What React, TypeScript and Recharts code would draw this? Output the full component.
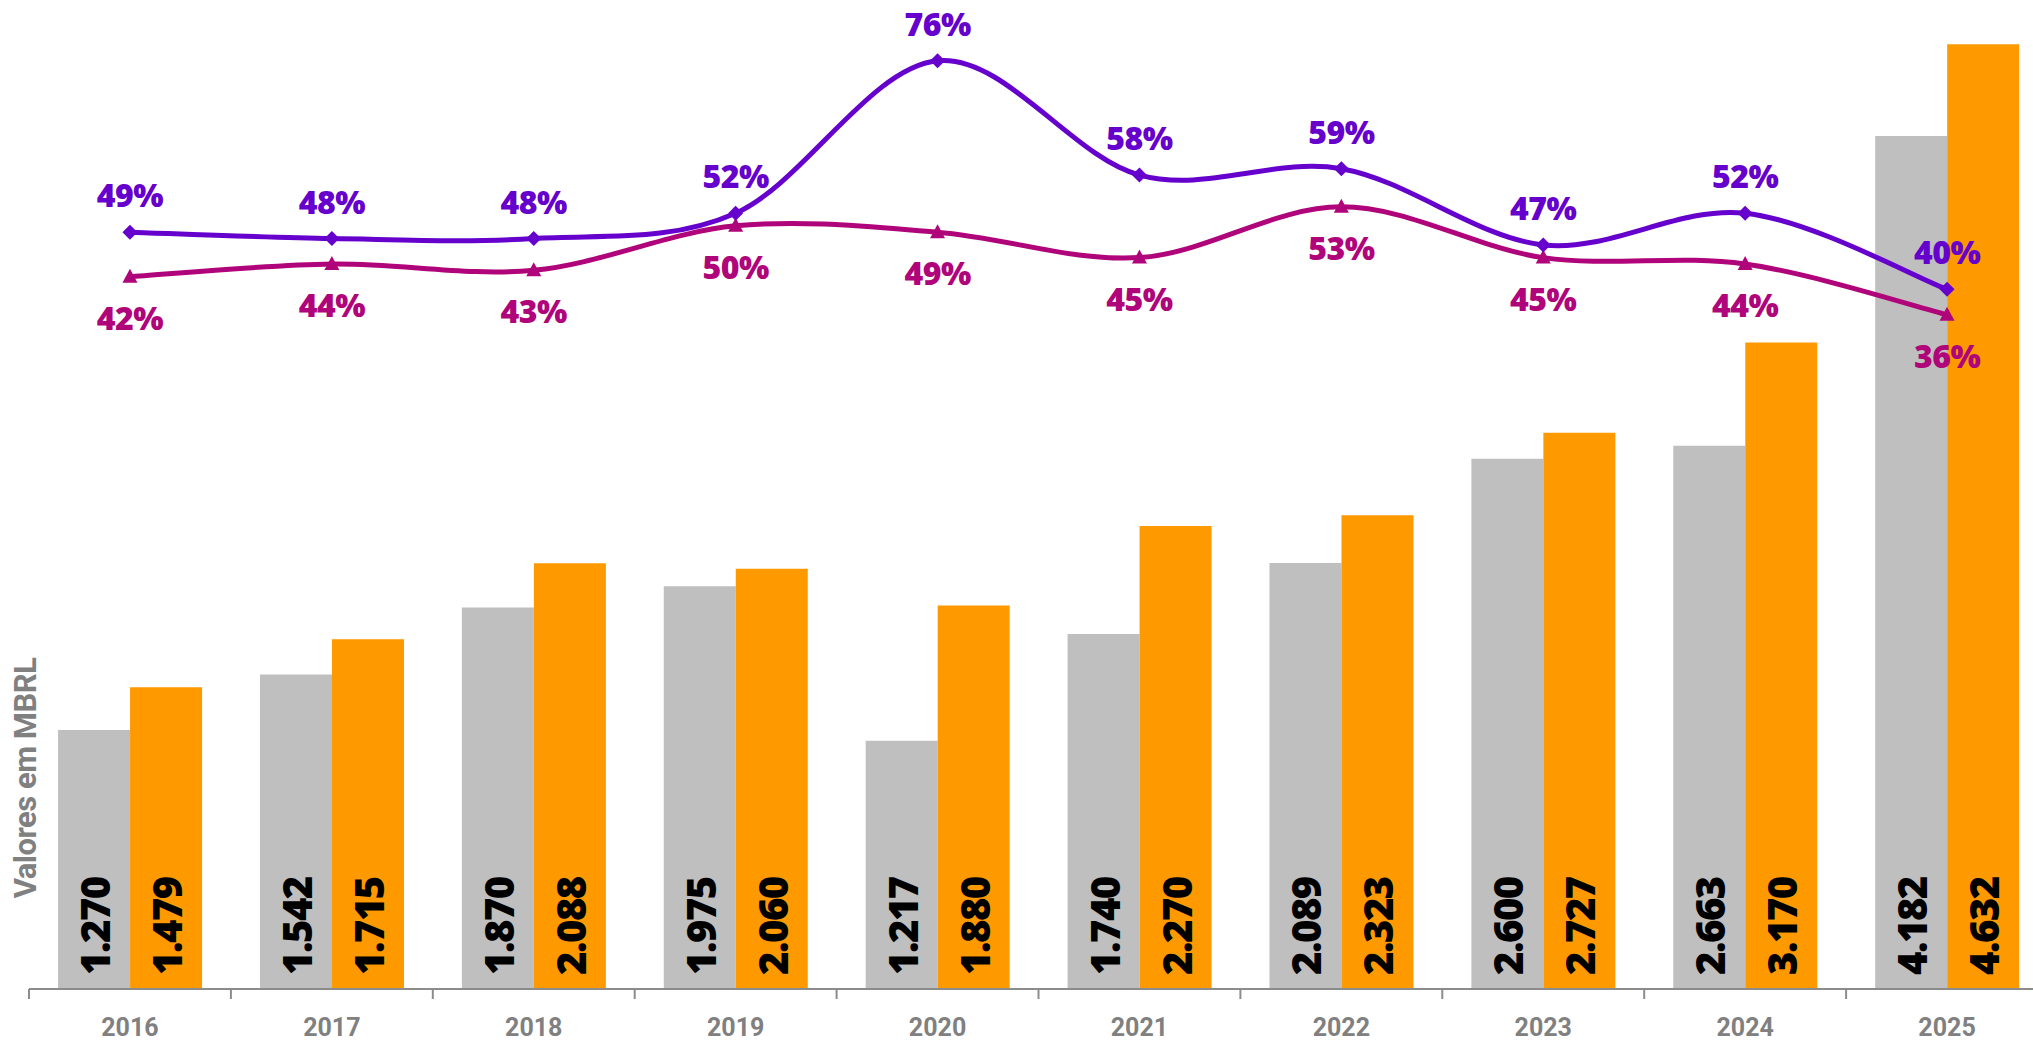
import { ComposedChart, Bar, Line, XAxis, YAxis, LabelList } from 'recharts';

const years = ['2016', '2017', '2018', '2019', '2020', '2021', '2022', '2023', '2024', '2025'];
const grayValues = [1270, 1542, 1870, 1975, 1217, 1740, 2089, 2600, 2663, 4182];
const orangeValues = [1479, 1715, 2088, 2060, 1880, 2270, 2323, 2727, 3170, 4632];
const purplePct = [49, 48, 48, 52, 76, 58, 59, 47, 52, 40];
const pinkPct = [42, 44, 43, 50, 49, 45, 53, 45, 44, 36];

const data = years.map((year, i) => ({
  year,
  gray: grayValues[i],
  orange: orangeValues[i],
  purple: purplePct[i],
  pink: pinkPct[i],
}));

const PURPLE = '#6600CC';
const PINK = '#B0047A';
const GRAY_BAR = '#BFBFBF';
const ORANGE = '#FF9900';
const AXIS_GRAY = '#8C8C8C';
const TEXT_GRAY = '#808080';
const FONT = 'Roboto, "Liberation Sans", sans-serif';
const HEAVY_FONT = '"Open Sans", Roboto, sans-serif';

// Excel-style smoothed line (catmull-rom like, 1/6 control points)
const excelSmooth = (context: any) => {
  let pts: number[][] = [];
  return {
    areaStart() {},
    areaEnd() {},
    lineStart() {
      pts = [];
    },
    point(x: number, y: number) {
      pts.push([+x, +y]);
    },
    lineEnd() {
      if (!pts.length) return;
      context.moveTo(pts[0][0], pts[0][1]);
      for (let i = 0; i < pts.length - 1; i++) {
        const p0 = pts[Math.max(i - 1, 0)];
        const p1 = pts[i];
        const p2 = pts[i + 1];
        const p3 = pts[Math.min(i + 2, pts.length - 1)];
        context.bezierCurveTo(
          p1[0] + (p2[0] - p0[0]) / 6,
          p1[1] + (p2[1] - p0[1]) / 6,
          p2[0] - (p3[0] - p1[0]) / 6,
          p2[1] - (p3[1] - p1[1]) / 6,
          p2[0],
          p2[1]
        );
      }
    },
  };
};

const formatThousands = (v: number) => String(v).replace(/\B(?=(\d{3})+(?!\d))/g, '.');

const DiamondDot = (props: any) => {
  const { cx, cy } = props;
  if (cx == null || cy == null) return null;
  const r = 7.5;
  return (
    <path
      key={`d-${cx}`}
      d={`M${cx},${cy - r}L${cx + r},${cy}L${cx},${cy + r}L${cx - r},${cy}Z`}
      fill={PURPLE}
    />
  );
};

const TriangleDot = (props: any) => {
  const { cx, cy } = props;
  if (cx == null || cy == null) return null;
  return (
    <path
      key={`t-${cx}`}
      d={`M${cx},${cy - 8}L${cx + 7.5},${cy + 6}L${cx - 7.5},${cy + 6}Z`}
      fill={PINK}
    />
  );
};

const BarValueLabel = (props: any) => {
  const { x, y, width, height, value } = props;
  const cx = x + width / 2 + 16;
  const by = y + height - 14;
  return (
    <text
      transform={`translate(${cx},${by}) rotate(-90)`}
      textAnchor="start"
      fill="#000"
      fontFamily={HEAVY_FONT}
      fontWeight={800}
      fontSize={40}
      letterSpacing={-1.5}
    >
      {formatThousands(value)}
    </text>
  );
};

const pctLabel = (color: string, dy: number) => (props: any) => {
  const { x, y, value } = props;
  return (
    <text
      x={x}
      y={y + dy}
      textAnchor="middle"
      fill={color}
      fontFamily={HEAVY_FONT}
      fontWeight={800}
      fontSize={32}
      letterSpacing={-0.5}
    >
      {value}%
    </text>
  );
};

// year label at band centre, tick mark at the band's left edge (and right edge for the last one)
const YearTick = (props: any) => {
  const { x, y, payload, index, width, visibleTicksCount } = props;
  const half = payload?.offset || width / (2 * visibleTicksCount);
  const isLast = index === visibleTicksCount - 1;
  return (
    <g>
      <line x1={x - half} y1={y} x2={x - half} y2={y + 10} stroke={AXIS_GRAY} strokeWidth={2} />
      {isLast && (
        <line x1={x + half} y1={y} x2={x + half} y2={y + 10} stroke={AXIS_GRAY} strokeWidth={2} />
      )}
      <text
        x={x}
        y={y + 47}
        textAnchor="middle"
        fill={TEXT_GRAY}
        fontFamily={FONT}
        fontWeight={700}
        fontSize={25}
      >
        {payload.value}
      </text>
    </g>
  );
};

export default function App() {
  return (
    <div
      style={{
        position: 'fixed',
        left: 0,
        top: 0,
        width: 2033,
        height: 1041,
        overflow: 'hidden',
        background: '#fff',
      }}
    >
      <ComposedChart
        width={2060}
        height={1041}
        data={data}
        margin={{ top: 10, right: 12, bottom: 0, left: 29 }}
        barGap={0}
        barCategoryGap="14.4%"
      >
        <XAxis
          dataKey="year"
          height={52}
          interval={0}
          tickSize={0}
          tickMargin={0}
          tickLine={false}
          axisLine={{ stroke: AXIS_GRAY, strokeWidth: 2 }}
          tick={<YearTick />}
        />
        <YAxis yAxisId="bars" domain={[0, 4800]} hide />
        <YAxis yAxisId="pct" domain={[-70.2, 84]} hide />

        <Bar yAxisId="bars" dataKey="gray" fill={GRAY_BAR} isAnimationActive={false}>
          <LabelList dataKey="gray" content={<BarValueLabel />} />
        </Bar>
        <Bar yAxisId="bars" dataKey="orange" fill={ORANGE} isAnimationActive={false}>
          <LabelList dataKey="orange" content={<BarValueLabel />} />
        </Bar>

        <Line
          yAxisId="pct"
          dataKey="pink"
          type={excelSmooth as any}
          stroke={PINK}
          strokeWidth={5}
          dot={<TriangleDot />}
          activeDot={false}
          isAnimationActive={false}
        >
          <LabelList dataKey="pink" content={pctLabel(PINK, 53)} />
        </Line>
        <Line
          yAxisId="pct"
          dataKey="purple"
          type={excelSmooth as any}
          stroke={PURPLE}
          strokeWidth={5}
          dot={<DiamondDot />}
          activeDot={false}
          isAnimationActive={false}
        >
          <LabelList dataKey="purple" content={pctLabel(PURPLE, -25)} />
        </Line>

        <text
          transform="translate(36,778) rotate(-90)"
          textAnchor="middle"
          fill={TEXT_GRAY}
          fontFamily={FONT}
          fontWeight={700}
          fontSize={31}
          letterSpacing={-0.5}
        >
          Valores em MBRL
        </text>
      </ComposedChart>
    </div>
  );
}
